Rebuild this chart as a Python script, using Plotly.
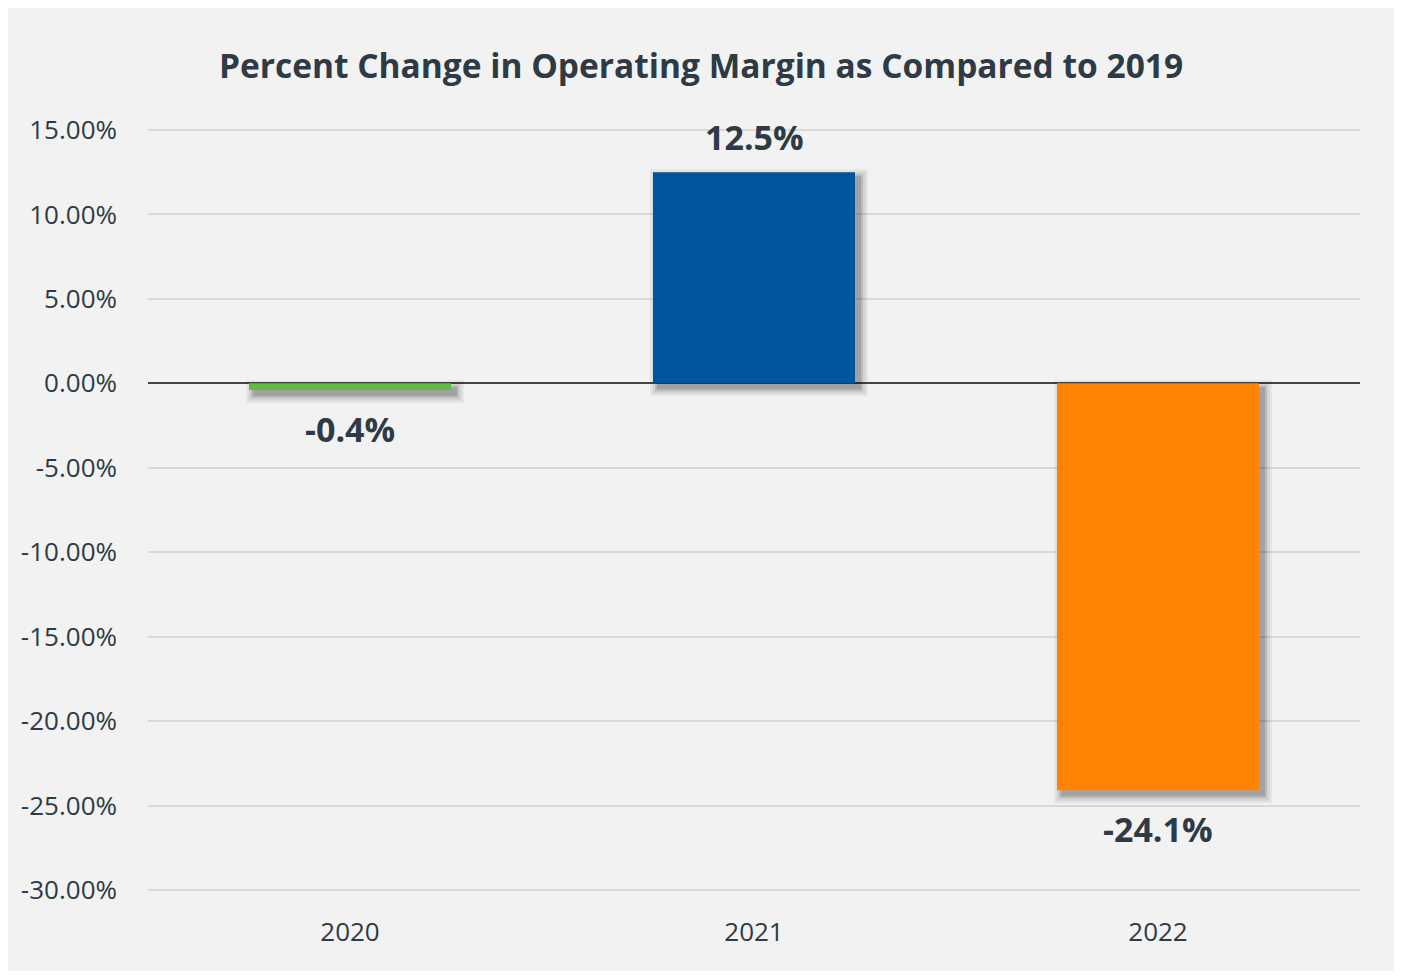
import plotly.graph_objects as go

years = ["2020", "2021", "2022"]
changes = [-0.4, 12.5, -24.1]
colors = ["#62b946", "#00559f", "#ff8300"]
tick_vals = [15, 10, 5, 0, -5, -10, -15, -20, -25, -30]
tick_text = [f"{v:.2f}%" for v in tick_vals]
labels = [f"{v:.1f}%" for v in changes]

TXT = "#2e3b45"
FONT = "Open Sans"
Y_RANGE = [-30.06, 15.06]
BAR_W = 0.5
PX_X = 1 / 404.0   # category units per pixel
PX_Y = 45 / 760.0  # percent per pixel

fig = go.Figure()

# soft drop shadow: stacked translucent bars, offset right/down, growing blur
shadow = [(8, "rgba(0,0,0,0.05)"), (5.5, "rgba(0,0,0,0.08)"),
          (3, "rgba(0,0,0,0.11)"), (1, "rgba(0,0,0,0.13)")]
dx, dy = 5 * PX_X, 5 * PX_Y
for e_px, col in shadow:
    ex, ey = e_px * PX_X, e_px * PX_Y
    sgn = [1 if v >= 0 else -1 for v in changes]
    fig.add_trace(go.Bar(
        x=years,
        y=[v + 2 * ey * s for v, s in zip(changes, sgn)],
        base=[-dy - ey * s for s in sgn],
        width=BAR_W + 2 * ex,
        offset=-(BAR_W / 2) - ex + dx,
        marker=dict(color=col, line=dict(width=0)),
        hoverinfo="skip", showlegend=False,
    ))

fig.add_trace(go.Bar(
    x=years, y=changes, width=BAR_W,
    marker=dict(color=colors, line=dict(width=0)),
    showlegend=False,
))

for i, (v, lab) in enumerate(zip(changes, labels)):
    fig.add_annotation(
        x=i, y=v, xref="x", yref="y", text=f"<b>{lab}</b>", showarrow=False,
        yanchor="middle", yshift=35 if v >= 0 else -39,
        font=dict(family=FONT, size=34, color=TXT),
    )

fig.update_layout(
    width=1386, height=963,
    paper_bgcolor="#f2f2f2", plot_bgcolor="#f2f2f2",
    margin=dict(l=140, r=34, t=121, b=80),
    title=dict(text="<b>Percent Change in Operating Margin as Compared to 2019</b>",
               x=0.5, xanchor="center", y=0.94, yanchor="middle",
               font=dict(family=FONT, size=33.5, color=TXT)),
    barmode="overlay",
    xaxis=dict(range=[-0.5, 2.5], type="category", showgrid=False, showline=False,
               ticks="", ticklabelstandoff=23,
               tickfont=dict(family=FONT, size=26, color=TXT)),
    yaxis=dict(range=Y_RANGE, tickvals=tick_vals, ticktext=tick_text,
               showgrid=True, gridcolor="#d9d9d9", gridwidth=1.5,
               zeroline=True, zerolinecolor="#3f4850", zerolinewidth=1.8,
               ticks="", ticklabelstandoff=30,
               tickfont=dict(family=FONT, size=26, color=TXT)),
    font=dict(family=FONT, color=TXT),
)

fig.write_html("out.html")
